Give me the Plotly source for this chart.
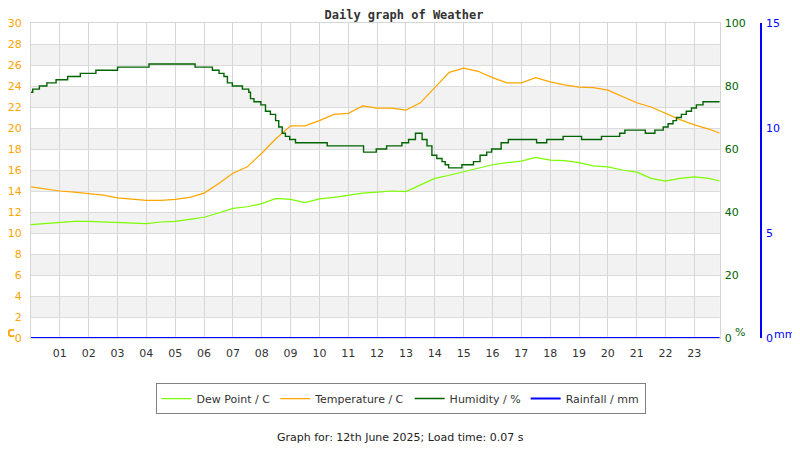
import plotly.graph_objects as go

# Half-hourly readings (hour of day)
hours = [0.0, 0.5, 1.0, 1.5, 2.0, 2.5, 3.0, 3.5, 4.0, 4.5, 5.0, 5.5, 6.0, 6.5, 7.0, 7.5,
         8.0, 8.5, 9.0, 9.5, 10.0, 10.5, 11.0, 11.5, 12.0, 12.5, 13.0, 13.5, 14.0, 14.5,
         15.0, 15.5, 16.0, 16.5, 17.0, 17.5, 18.0, 18.5, 19.0, 19.5, 20.0, 20.5, 21.0,
         21.5, 22.0, 22.5, 23.0, 23.5, 23.88]

temperature = [14.4, 14.2, 14.0, 13.9, 13.75, 13.6, 13.35, 13.2, 13.1, 13.1, 13.2, 13.4,
               13.8, 14.7, 15.7, 16.3, 17.6, 19.0, 20.2, 20.2, 20.7, 21.3, 21.4, 22.1,
               21.9, 21.9, 21.7, 22.4, 23.8, 25.3, 25.7, 25.4, 24.8, 24.3, 24.3, 24.8,
               24.4, 24.1, 23.9, 23.85, 23.6, 23.0, 22.4, 22.0, 21.4, 20.8, 20.3, 19.9, 19.5]

dew_point = [10.8, 10.9, 11.0, 11.1, 11.1, 11.05, 11.0, 11.0, 10.9, 11.05, 11.1, 11.3,
             11.5, 11.9, 12.35, 12.5, 12.8, 13.3, 13.2, 12.9, 13.25, 13.4, 13.6, 13.8,
             13.9, 14.0, 13.95, 14.6, 15.2, 15.5, 15.85, 16.2, 16.5, 16.7, 16.85, 17.2,
             16.95, 16.9, 16.7, 16.4, 16.3, 16.0, 15.8, 15.2, 14.95, 15.2, 15.35, 15.2, 14.95]

rainfall = [0.0] * len(hours)

# Humidity changes (hour, %), held until next change
hum_hours = [0.0, 0.06, 0.29, 0.55, 0.87, 1.27, 1.71, 2.25, 3.0, 4.09, 5.69, 6.29, 6.52,
             6.69, 6.81, 6.98, 7.33, 7.55, 7.61, 7.73, 7.97, 8.13, 8.3, 8.48, 8.59, 8.71,
             8.82, 8.97, 9.17, 10.27, 11.53, 11.97, 12.33, 12.86, 13.09, 13.33, 13.56,
             13.73, 13.9, 14.07, 14.25, 14.36, 14.48, 14.94, 15.34, 15.57, 15.8, 15.97,
             16.3, 16.55, 17.53, 17.88, 18.45, 19.09, 19.78, 20.41, 20.59, 21.3, 21.63,
             21.92, 22.09, 22.26, 22.38, 22.55, 22.72, 22.9, 23.07, 23.3, 23.88]
humidity = [78, 79, 80, 81, 82, 83, 84, 85, 86, 87, 86, 85, 84,
            83, 81, 80, 79, 78, 76, 75, 74, 72, 71, 69, 67, 65,
            64, 63, 62, 61, 59, 60, 61, 62, 63, 65, 63,
            61, 58, 57, 56, 55, 54, 55, 56, 58, 59, 60,
            62, 63, 62, 63, 64, 63, 64, 65, 66, 65, 66,
            67, 68, 69, 70, 71, 72, 73, 74, 75, 75]

hour_ticks = list(range(1, 24))
hour_labels = [f"{h:02d}" for h in hour_ticks]

ORANGE = "#ffa500"
DEWGREEN = "#7cfc00"
DARKGREEN = "#006400"
BLUE = "#0000ff"
FONT = "DejaVu Sans"

fig = go.Figure()

fig.add_trace(go.Scatter(x=hours, y=dew_point, name="Dew Point / C",
                         mode="lines", line=dict(color=DEWGREEN, width=1.2)))
fig.add_trace(go.Scatter(x=hours, y=temperature, name="Temperature / C",
                         mode="lines", line=dict(color=ORANGE, width=1.2)))
fig.add_trace(go.Scatter(x=hum_hours, y=humidity, name="Humidity / %", yaxis="y2",
                         mode="lines", line=dict(color=DARKGREEN, width=1.4, shape="hv")))
fig.add_trace(go.Scatter(x=hours, y=rainfall, name="Rainfall / mm", yaxis="y3",
                         mode="lines", line=dict(color=BLUE, width=2)))

# alternating grey bands
for b in range(2, 30, 4):
    fig.add_shape(type="rect", xref="x domain", x0=0, x1=1, yref="y", y0=b, y1=b + 2,
                  fillcolor="#f2f2f2", line=dict(width=0), layer="below")

# page body adds an 8px margin, so the figure is 8px smaller and shifted
fig.update_layout(
    width=792, height=442,
    margin=dict(l=23, r=30, t=15, b=112, autoexpand=False),
    paper_bgcolor="white", plot_bgcolor="white",
    font=dict(family=FONT, size=11, color="#333333"),
    title=dict(text="<b>Daily graph of Weather</b>", x=0.5, xanchor="center",
               y=0.984, yanchor="middle",
               font=dict(family="DejaVu Sans Mono", size=12, color="#333333")),
    xaxis=dict(range=[0, 23.88], domain=[0, 0.932], tickvals=hour_ticks, ticktext=hour_labels,
               showgrid=True, gridcolor="#d6d6d6", gridwidth=1, zeroline=False,
               showline=True, linecolor="#d6d6d6", mirror=True, ticks="", automargin=False,
               ticklabelstandoff=5, tickfont=dict(size=11, color="#333333")),
    yaxis=dict(range=[0, 30], dtick=2, showgrid=True, gridcolor="#dcdcdc", zeroline=False,
               showline=True, linecolor="#d6d6d6", mirror=True, ticks="", automargin=False,
               ticklabelstandoff=6, tickfont=dict(size=11, color=ORANGE)),
    yaxis2=dict(range=[0, 100], tickvals=[0, 20, 40, 60, 80, 100], overlaying="y",
                side="right", anchor="x", showgrid=False, zeroline=False, ticks="",
                automargin=False, ticklabelstandoff=4, tickfont=dict(size=11, color=DARKGREEN)),
    yaxis3=dict(range=[0, 15], dtick=5, overlaying="y", side="right", anchor="free",
                position=0.988, showgrid=False, zeroline=False, ticks="", automargin=False,
                showline=True, linecolor=BLUE, linewidth=1.5,
                ticklabelstandoff=2, tickfont=dict(size=11, color=BLUE)),
    legend=dict(orientation="h", x=0.5, xanchor="center", y=-0.143, yanchor="top",
                bordercolor="#808080", borderwidth=1, bgcolor="white",
                font=dict(size=11, color="#333333"), itemwidth=30),
    showlegend=True,
)

fig.add_annotation(text="<b>C</b>", x=-0.035, xref="paper", xanchor="left", y=0.013,
                   yref="paper", yanchor="middle", showarrow=False,
                   font=dict(size=11, color=ORANGE))
fig.add_annotation(text="%", x=0.959, xref="paper", xanchor="center", y=0.016, yref="paper",
                   yanchor="middle", showarrow=False, font=dict(size=11, color=DARKGREEN))
fig.add_annotation(text="mm", x=1.003, xref="paper", xanchor="left", y=0.01, yref="paper",
                   yanchor="middle", showarrow=False, font=dict(size=11, color=BLUE))
fig.add_annotation(text="Graph for: 12th June 2025; Load time: 0.07 s", x=0.5, xref="paper",
                   xanchor="center", y=-0.317, yref="paper", yanchor="middle",
                   showarrow=False, font=dict(size=11, color="#222222"))

fig.write_html("out.html")
